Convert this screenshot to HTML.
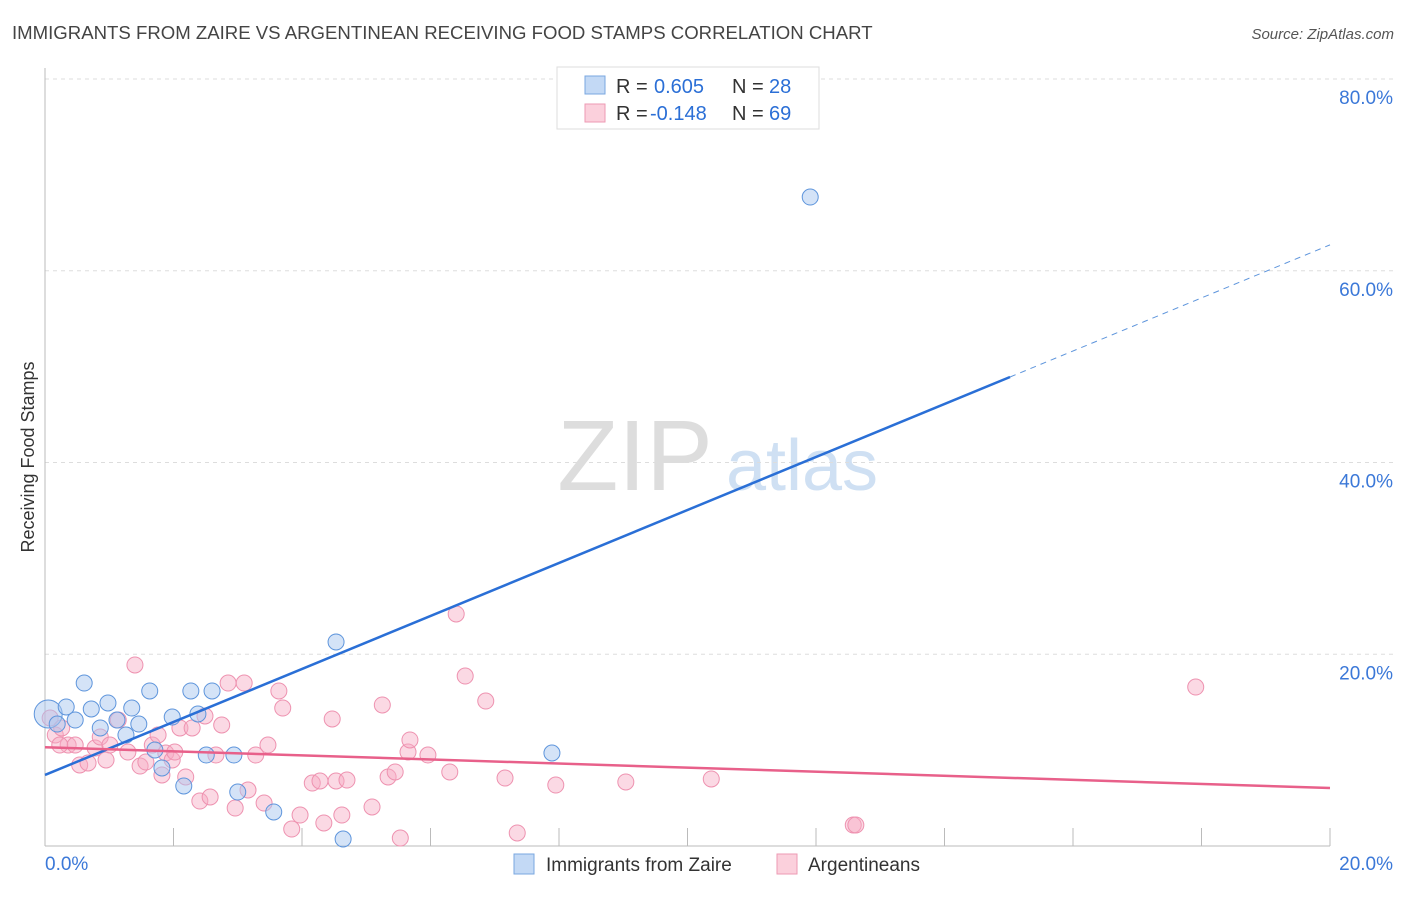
<!DOCTYPE html>
<html><head><meta charset="utf-8"><style>
body{margin:0;background:#fff;font-family:"Liberation Sans",sans-serif}
svg text{font-family:"Liberation Sans",sans-serif}
</style></head><body>
<svg id="c" width="1406" height="892">
<text x="12" y="39" font-size="18.6" fill="#444">IMMIGRANTS FROM ZAIRE VS ARGENTINEAN RECEIVING FOOD STAMPS CORRELATION CHART</text>
<text x="1394" y="39" font-size="15" fill="#555" font-style="italic" text-anchor="end">Source: ZipAtlas.com</text>
<text transform="translate(34,457) rotate(-90)" font-size="18" fill="#333" text-anchor="middle">Receiving Food Stamps</text>
<g><text x="635" y="490" font-size="100" fill="#ddd" font-family="Liberation Serif" text-anchor="middle">ZIP</text><text x="802" y="490" font-size="72" fill="#cfe0f3" text-anchor="middle">atlas</text></g>
<g id="grid"></g><g id="marks"></g>
<g>
<rect x="557" y="67" width="262" height="62" fill="#fff" stroke="#ddd"/>
<rect x="585" y="76" width="20" height="18" fill="#c3d9f5" stroke="#7aa7e0"/>
<rect x="585" y="104" width="20" height="18" fill="#fbd0dc" stroke="#ee9ab3"/>
<text x="616" y="93" font-size="20" fill="#333">R =</text><text x="654" y="93" font-size="20" fill="#2b6fd6">0.605</text>
<text x="732" y="93" font-size="20" fill="#333">N =</text><text x="769" y="93" font-size="20" fill="#2b6fd6">28</text>
<text x="616" y="120" font-size="20" fill="#333">R =</text><text x="650" y="120" font-size="20" fill="#2b6fd6">-0.148</text>
<text x="732" y="120" font-size="20" fill="#333">N =</text><text x="769" y="120" font-size="20" fill="#2b6fd6">69</text>
</g>
<g>
<rect x="514" y="854" width="20" height="20" fill="#c3d9f5" stroke="#7aa7e0"/>
<text x="546" y="871" font-size="19" fill="#333">Immigrants from Zaire</text>
<rect x="777" y="854" width="20" height="20" fill="#fbd0dc" stroke="#ee9ab3"/>
<text x="808" y="871" font-size="19" fill="#333">Argentineans</text>
</g>
</svg>
<script>
const blueX=[0.05,0.33,0.47,0.19,0.61,0.72,0.86,0.98,1.12,1.35,1.46,1.26,1.63,1.71,1.82,1.98,2.16,2.27,2.38,2.51,2.60,2.94,3.00,3.56,4.53,4.64,7.89,11.91];
const blueY=[13.77,14.5,13.14,12.72,17.0,14.29,12.31,14.92,13.14,14.39,12.72,11.58,16.17,10.01,8.14,13.45,6.26,16.17,13.77,9.49,16.17,9.49,5.63,3.55,21.28,0.73,9.70,67.69];
const pinkX=[0.08,0.16,0.26,0.36,0.23,0.47,0.54,0.67,0.78,0.86,0.95,1.01,1.14,1.29,1.40,1.48,1.57,1.67,1.76,1.82,1.88,1.98,2.02,2.10,2.19,2.29,2.41,2.49,2.57,2.66,2.75,2.85,2.96,3.10,3.16,3.28,3.41,3.47,3.64,3.70,3.84,3.97,4.16,4.28,4.34,4.53,4.62,4.70,4.47,5.09,5.25,5.34,5.45,5.53,5.65,5.68,5.96,6.30,6.40,6.54,6.86,7.16,7.35,7.95,9.04,10.37,12.58,12.62,17.91];
const pinkY=[13.35,11.58,12.31,10.53,10.53,10.53,8.45,8.66,10.22,11.37,8.97,10.53,13.14,9.80,18.88,8.34,8.76,10.53,11.58,7.41,9.70,8.97,9.80,12.31,7.20,12.31,4.69,13.56,5.11,9.49,12.62,17.0,3.96,17.0,5.84,9.49,4.48,10.53,16.17,14.39,1.77,3.23,6.57,6.78,2.40,6.78,3.23,6.88,13.25,4.07,14.71,7.20,7.72,0.83,9.80,11.06,9.49,7.72,24.2,17.73,15.12,7.09,1.36,6.36,6.68,6.99,2.19,2.19,16.58];
const yTicks=[20,40,60,80];
const yTickLabels=["20.0%","40.0%","60.0%","80.0%"];
const blueTrend=[7.41,48.92,62.7];const blueTrendX=[0,15.02,20];
const pinkTrend=[10.3,6.05];
const NS="http://www.w3.org/2000/svg";
const sx=v=>45+v/20*1285, sy=v=>846-v*9.5875;
function mk(t,a,p){const e=document.createElementNS(NS,t);for(const k in a)e.setAttribute(k,a[k]);p.appendChild(e);return e;}
const g=document.getElementById('grid'),m=document.getElementById('marks');
yTicks.forEach((t,i)=>{const l=mk('line',{x1:45,x2:1393,y1:sy(t),y2:sy(t),stroke:'#ddd','stroke-dasharray':'4,4'},g);


const tx=mk('text',{x:1393,y:sy(t)+25,'font-size':19,fill:'#3b78d8','text-anchor':'end'},g);tx.textContent=yTickLabels[i];

});
mk('line',{x1:45,x2:45,y1:68,y2:846,stroke:'#bbb'},g);
mk('line',{x1:45,x2:1330,y1:846,y2:846,stroke:'#bbb'},g);
for(let i=1;i<=10;i++){const x=45+i*128.5;mk('line',{x1:x,x2:x,y1:828,y2:846,stroke:'#bbb'},g);}
[["0.0%",45,'start'],["20.0%",1393,'end']].forEach(a=>{const t=mk('text',{x:a[1],y:870,'font-size':19,fill:'#3b78d8','text-anchor':a[2]},g);t.textContent=a[0];

});
pinkX.forEach((x,i)=>{const c=mk('circle',{cx:sx(x),cy:sy(pinkY[i]),r:8,fill:'rgba(246,170,195,0.45)',stroke:'#ee92b0','stroke-width':1},m);

});
blueX.forEach((x,i)=>{const c=mk('circle',{cx:sx(x),cy:sy(blueY[i]),r:i==0?14:8,fill:'rgba(170,200,240,0.5)',stroke:'#5e95dc','stroke-width':1},m);

});
const b1=mk('line',{x1:sx(blueTrendX[0]),y1:sy(blueTrend[0]),x2:sx(blueTrendX[1]),y2:sy(blueTrend[1]),stroke:'#2a6fd6','stroke-width':2.5},m);


const b2=mk('line',{x1:sx(blueTrendX[1]),y1:sy(blueTrend[1]),x2:sx(blueTrendX[2]),y2:sy(blueTrend[2]),stroke:'#5e95dc','stroke-width':1,'stroke-dasharray':'6,5'},m);


const p1=mk('line',{x1:sx(0),y1:sy(pinkTrend[0]),x2:sx(20),y2:sy(pinkTrend[1]),stroke:'#e8608a','stroke-width':2.5},m);


</script>
</body></html>
